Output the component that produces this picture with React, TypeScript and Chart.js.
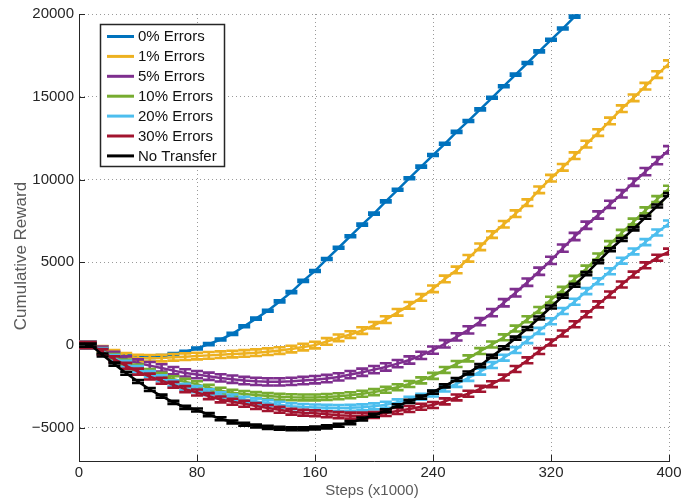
import React, { useEffect, useRef } from 'react';
import { Chart, registerables } from 'chart.js';

Chart.register(...registerables);

// Steps (x1000)
const steps = [
  0, 8, 16, 24, 32, 40, 48, 56, 64, 72, 80, 88, 96, 104, 112, 120, 128, 136, 144, 152,
  160, 168, 176, 184, 192, 200, 208, 216, 224, 232, 240, 248, 256, 264, 272, 280, 288, 296, 304, 312,
  320, 328, 336, 344, 352, 360, 368, 376, 384, 392, 400,
];

const err0 = [
  0, 0, -250, -480, -640, -720, -720, -660, -540, -400, -200, 60, 340, 680, 1140, 1600, 2080, 2640, 3200, 3880,
  4480, 5200, 5880, 6580, 7280, 7940, 8680, 9380, 10080, 10780, 11480, 12160, 12880, 13540, 14240, 14940, 15640, 16340, 17040, 17740,
  18440, 19120, 19840, 20540, null, null, null, null, null, null, null,
];
const err1 = [
  0, 0, -250, -500, -680, -780, -800, -780, -740, -700, -660, -620, -580, -540, -500, -460, -400, -330, -240, -120,
  0, 220, 440, 640, 880, 1200, 1540, 1980, 2400, 2880, 3400, 4000, 4540, 5240, 5940, 6680, 7300, 7940, 8600, 9380,
  10080, 10740, 11440, 12140, 12840, 13540, 14280, 14940, 15640, 16340, 17000,
];
const err5 = [
  0, 0, -300, -620, -900, -1080, -1240, -1380, -1540, -1680, -1780, -1880, -1980, -2060, -2140, -2190, -2220, -2220, -2190, -2140,
  -2090, -2020, -1920, -1780, -1640, -1480, -1320, -1120, -900, -620, -300, 80, 500, 920, 1420, 1960, 2560, 3160, 3800, 4460,
  5120, 5860, 6560, 7240, 7860, 8500, 9140, 9840, 10480, 11140, 11800,
];
const err10 = [
  0, 0, -350, -720, -1050, -1350, -1620, -1850, -2060, -2220, -2360, -2580, -2760, -2880, -2950, -3020, -3080, -3120, -3150, -3160,
  -3160, -3130, -3090, -3030, -2940, -2840, -2700, -2540, -2350, -2130, -1860, -1500, -1140, -800, -360, 40, 470, 1000, 1560, 2120,
  2740, 3340, 4000, 4620, 5350, 6100, 6780, 7460, 8140, 8820, 9450,
];
const err20 = [
  0, 0, -380, -780, -1130, -1450, -1750, -2000, -2300, -2520, -2660, -2850, -3030, -3160, -3300, -3400, -3500, -3600, -3690, -3740,
  -3770, -3790, -3800, -3790, -3760, -3700, -3600, -3460, -3300, -3120, -2920, -2620, -2340, -1980, -1600, -1200, -760, -300, 300, 860,
  1440, 2060, 2620, 3260, 3860, 4460, 5100, 5660, 6220, 6800, 7350,
];
const err30 = [
  0, 0, -420, -850, -1250, -1600, -1900, -2150, -2400, -2660, -2860, -3080, -3280, -3420, -3540, -3680, -3800, -3910, -4020, -4080,
  -4120, -4180, -4230, -4260, -4260, -4220, -4100, -3980, -3860, -3720, -3620, -3400, -3160, -2940, -2640, -2360, -1960, -1440, -920, -360,
  160, 700, 1260, 1860, 2460, 3060, 3660, 4260, 4820, 5280, 5650,
];
const noTransfer = [
  0, 0, -600, -1150, -1700, -2200, -2680, -3080, -3460, -3760, -3920, -4200, -4450, -4640, -4780, -4890, -4970, -5020, -5050, -5050,
  -5010, -4940, -4840, -4680, -4460, -4240, -3960, -3660, -3400, -3140, -2840, -2460, -2080, -1680, -1240, -680, -160, 420, 1000, 1640,
  2300, 2960, 3620, 4320, 5040, 5760, 6380, 7020, 7720, 8400, 9100,
];

const seriesValues = [err0, err1, err5, err10, err20, err30, noTransfer];
const seriesLabels = ['0% Errors', '1% Errors', '5% Errors', '10% Errors', '20% Errors', '30% Errors', 'No Transfer'];
const seriesColors = ['#0072BD', '#EDB120', '#7E2F8E', '#77AC30', '#4DBEEE', '#A2142F', '#000000'];
// half-length of the error bars, per series
const errorSizes = [60, 200, 220, 180, 180, 180, 90];

const xTicks = [0, 80, 160, 240, 320, 400];
const yTicks = [-5000, 0, 5000, 10000, 15000, 20000];
const xTitle = 'Steps (x1000)';
const yTitle = 'Cumulative Reward';

const FONT = '"Liberation Sans", Arial, Helvetica, sans-serif';
const AXIS_COLOR = '#262626';
const LABEL_COLOR = '#5a5a5a';

const decorPlugin = {
  id: 'decor',
  afterDatasetDraw(chart: any, args: any) {
    const ds: any = chart.data.datasets[args.index];
    const e = ds.errSize as number;
    const xs = chart.scales.x;
    const ys = chart.scales.y;
    const ctx = chart.ctx as CanvasRenderingContext2D;
    const ca = chart.chartArea;
    ctx.save();
    ctx.beginPath();
    ctx.rect(ca.left, ca.top, ca.right - ca.left, ca.bottom - ca.top);
    ctx.clip();
    ctx.strokeStyle = ds.borderColor;
    ctx.lineWidth = 2.6;
    ctx.lineCap = 'butt';
    ds.data.forEach((p: any) => {
      if (p.y === null || p.y === undefined) return;
      const px = xs.getPixelForValue(p.x);
      const top = ys.getPixelForValue(p.y + e);
      const bot = ys.getPixelForValue(p.y - e);
      ctx.beginPath();
      ctx.moveTo(px, top);
      ctx.lineTo(px, bot);
      ctx.moveTo(px - 6, top);
      ctx.lineTo(px + 6, top);
      ctx.moveTo(px - 6, bot);
      ctx.lineTo(px + 6, bot);
      ctx.stroke();
    });
    ctx.restore();
  },
  afterDraw(chart: any) {
    const ctx = chart.ctx as CanvasRenderingContext2D;
    const ca = chart.chartArea;
    const xs = chart.scales.x;
    const ys = chart.scales.y;
    ctx.save();
    // inward tick marks
    ctx.strokeStyle = AXIS_COLOR;
    ctx.lineWidth = 1;
    ctx.beginPath();
    xTicks.forEach((v) => {
      const px = Math.round(xs.getPixelForValue(v)) + 0.5;
      ctx.moveTo(px, ca.bottom);
      ctx.lineTo(px, ca.bottom - 6);
    });
    yTicks.forEach((v) => {
      const py = Math.round(ys.getPixelForValue(v)) + 0.5;
      ctx.moveTo(ca.left, py);
      ctx.lineTo(ca.left + 6, py);
    });
    ctx.stroke();

    // axis titles
    ctx.fillStyle = LABEL_COLOR;
    ctx.font = `15px ${FONT}`;
    ctx.textAlign = 'center';
    ctx.textBaseline = 'middle';
    ctx.fillText(xTitle, (ca.left + ca.right) / 2 - 2, 491);
    ctx.save();
    ctx.translate(21, 256);
    ctx.rotate(-Math.PI / 2);
    ctx.font = `17px ${FONT}`;
    ctx.fillText(yTitle, 0, 0);
    ctx.restore();

    // legend
    const lx = 100.5, ly = 24.5, lw = 124, lh = 142;
    ctx.fillStyle = '#ffffff';
    ctx.fillRect(lx, ly, lw, lh);
    ctx.strokeStyle = AXIS_COLOR;
    ctx.lineWidth = 1.5;
    ctx.strokeRect(lx, ly, lw, lh);
    ctx.font = `15px ${FONT}`;
    ctx.textAlign = 'left';
    ctx.textBaseline = 'middle';
    seriesLabels.forEach((lab, i) => {
      const cy = 36.5 + i * 19.9;
      ctx.strokeStyle = seriesColors[i];
      ctx.lineWidth = 3;
      ctx.beginPath();
      ctx.moveTo(107, cy);
      ctx.lineTo(134, cy);
      ctx.stroke();
      ctx.fillStyle = '#111111';
      ctx.fillText(lab, 138, cy + 0.5);
    });
    ctx.restore();
  },
};

function fmt(v: number): string {
  return v < 0 ? '\u2212' + String(Math.abs(v)) : String(v);
}

export default function App() {
  const ref = useRef<HTMLCanvasElement | null>(null);

  useEffect(() => {
    if (!ref.current) return;
    const datasets = seriesValues.map((vals, i) => ({
      label: seriesLabels[i],
      data: steps.map((x, j) => ({ x, y: vals[j] })),
      borderColor: seriesColors[i],
      backgroundColor: seriesColors[i],
      borderWidth: 2.5,
      pointRadius: 0,
      tension: 0,
      fill: false,
      spanGaps: false,
      order: seriesValues.length - 1 - i,
      errSize: errorSizes[i],
    }));
    const chart = new Chart(ref.current, {
      type: 'line',
      data: { datasets: datasets as any },
      plugins: [decorPlugin as any],
      options: {
        animation: false,
        responsive: false,
        maintainAspectRatio: false,
        layout: { padding: { top: 12, right: 25, left: 0, bottom: 0 } },
        plugins: { legend: { display: false }, tooltip: { enabled: false } },
        scales: {
          x: {
            type: 'linear',
            min: 0,
            max: 400,
            afterBuildTicks: (s: any) => {
              s.ticks = xTicks.map((v) => ({ value: v }));
            },
            afterFit: (s: any) => {
              s.height = 40;
            },
            grid: { color: '#9a9a9a', lineWidth: 1, drawTicks: false },
            border: { color: AXIS_COLOR, width: 1, dash: [1, 3] },
            ticks: {
              padding: 3,
              color: AXIS_COLOR,
              font: { family: FONT, size: 15 },
              maxRotation: 0,
              autoSkip: false,
              callback: (v: any) => fmt(Number(v)),
            },
          },
          y: {
            type: 'linear',
            min: -7000,
            max: 20000,
            afterBuildTicks: (s: any) => {
              s.ticks = yTicks.map((v) => ({ value: v }));
            },
            afterFit: (s: any) => {
              s.width = 79;
            },
            grid: { color: '#9a9a9a', lineWidth: 1, drawTicks: false },
            border: { color: AXIS_COLOR, width: 1, dash: [1, 3] },
            ticks: {
              padding: 5,
              color: AXIS_COLOR,
              font: { family: FONT, size: 15 },
              autoSkip: false,
              callback: (v: any) => fmt(Number(v)),
            },
          },
        },
      } as any,
    });
    return () => chart.destroy();
  }, []);

  return (
    <div style={{ position: 'fixed', left: 0, top: 0, width: 694, height: 501, background: '#fff' }}>
      <canvas ref={ref} width={694} height={501} style={{ width: 694, height: 501, display: 'block' }} />
    </div>
  );
}
